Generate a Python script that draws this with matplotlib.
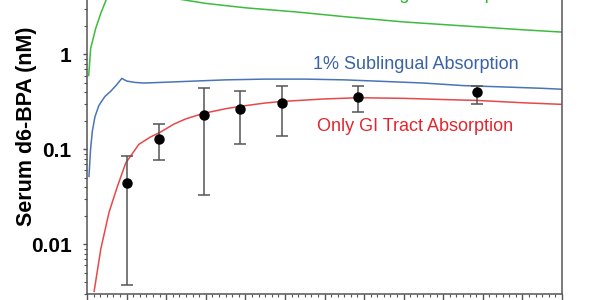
import matplotlib
matplotlib.use('Agg')
import matplotlib.pyplot as plt
from matplotlib.ticker import MultipleLocator, LogLocator, NullFormatter, FixedLocator, FixedFormatter

plt.rcParams['font.family'] = ['Liberation Sans', 'DejaVu Sans']

# Measured serum d6-BPA (mean with error bar limits), time in hours
obs_time = [1.0, 1.83, 2.95, 3.87, 4.93, 6.85, 9.85]
obs_mean = [0.044, 0.13, 0.233, 0.264, 0.305, 0.36, 0.40]
obs_low = [0.0037, 0.077, 0.033, 0.113, 0.137, 0.245, 0.30]
obs_high = [0.086, 0.183, 0.44, 0.41, 0.47, 0.47, 0.47]

# Model curves
gi_time = [0.18, 0.35, 0.56, 0.77, 0.98, 1.31, 1.6, 1.83, 2.2, 2.5, 2.95, 3.5, 3.87, 4.5,
           4.93, 6.0, 6.85, 8.0, 9.0, 9.85, 11.0, 12.0]
gi_conc = [0.0032, 0.009, 0.022, 0.041, 0.072, 0.113, 0.135, 0.15, 0.185, 0.21, 0.24, 0.268,
           0.284, 0.308, 0.32, 0.34, 0.35, 0.345, 0.335, 0.328, 0.31, 0.298]

sl1_time = [0.05, 0.09, 0.134, 0.2, 0.3, 0.45, 0.6, 0.75, 0.88, 1.0, 1.2, 1.44, 2.0, 2.5,
            3.5, 4.5, 5.5, 6.5, 7.5, 8.5, 9.5, 10.5, 11.5, 12.0]
sl1_conc = [0.052, 0.1, 0.155, 0.22, 0.29, 0.36, 0.41, 0.48, 0.56, 0.525, 0.508, 0.50,
            0.51, 0.52, 0.54, 0.55, 0.55, 0.54, 0.52, 0.5, 0.47, 0.455, 0.44, 0.43]

sl10_time = [0.043, 0.093, 0.22, 0.346, 0.5, 0.7, 0.9, 1.1, 1.5, 2.2, 3.0, 4.0, 5.3, 6.5,
             8.0, 9.5, 11.0, 12.0]
sl10_conc = [0.6, 1.16, 1.88, 2.7, 3.9, 4.8, 5.2, 5.0, 4.5, 3.9, 3.45, 3.1, 2.8, 2.5, 2.2,
             2.0, 1.82, 1.72]

labels = ['10% Sublingual Absorption', '1% Sublingual Absorption', 'Only GI Tract Absorption']
colors = ['#3dbb3d', '#4a74b8', '#e8474b']
text_colors = ['#2db82d', '#3a62a8', '#e3262d']

fig = plt.figure(figsize=(6, 3), dpi=100)
# the original picture is cropped, so the top of the axes sits above the figure
ax = fig.add_axes([0.145, 0.02, 0.7917, 1.115])

ax.plot(sl10_time, sl10_conc, color=colors[0], lw=1.1)
ax.plot(sl1_time, sl1_conc, color=colors[1], lw=1.1)
ax.plot(gi_time, gi_conc, color=colors[2], lw=1.1)

yerr = [[m - lo for m, lo in zip(obs_mean, obs_low)],
        [hi - m for m, hi in zip(obs_mean, obs_high)]]
ax.errorbar(obs_time, obs_mean, yerr=yerr, fmt='o', color='black', ms=6.5,
            ecolor='#555555', elinewidth=1.1, capsize=4, capthick=1.1, zorder=5)

ax.text(8.3, 4.25, labels[0], color=text_colors[0], fontsize=13, ha='center', va='center')
ax.text(8.3, 0.78, labels[1], color=text_colors[1], fontsize=13, ha='center', va='center')
ax.text(8.3, 0.173, labels[2], color=text_colors[2], fontsize=13, ha='center', va='center')

ax.set_yscale('log')
ax.set_ylim(0.003, 10)
ax.set_xlim(0, 12)

ax.yaxis.set_major_locator(FixedLocator([0.01, 0.1, 1]))
ax.yaxis.set_major_formatter(FixedFormatter(['0.01', '0.1', '1']))
ax.yaxis.set_minor_locator(LogLocator(base=10, subs=range(2, 10)))
ax.yaxis.set_minor_formatter(NullFormatter())
ax.xaxis.set_major_locator(MultipleLocator(1))
ax.xaxis.set_minor_locator(MultipleLocator(1 / 6))
ax.set_xticklabels([])

for lab in ax.get_yticklabels():
    lab.set_fontweight('bold')
ax.tick_params(axis='y', which='major', labelsize=15, length=3, width=1, color='#555555', pad=8)
ax.tick_params(axis='y', which='minor', length=2, width=0.8, color='#555555')
ax.tick_params(axis='x', which='major', length=4, width=1, color='#555555')
ax.tick_params(axis='x', which='minor', length=2.5, width=0.8, color='#555555')

for s in ax.spines.values():
    s.set_color('#555555')
    s.set_linewidth(1.1)

ax.set_ylabel('Serum d6-BPA (nM)', fontsize=15.5, fontweight='bold')
ax.yaxis.set_label_coords(-0.105, 0.502)

fig.savefig('out.png', dpi=100)
